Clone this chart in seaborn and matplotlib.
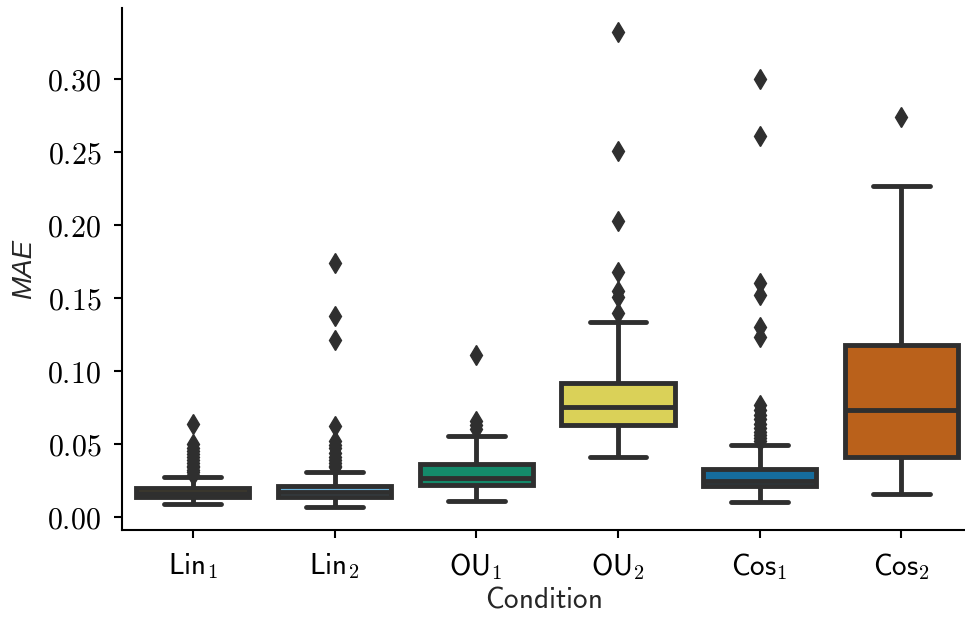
import numpy as np
import pandas as pd
import seaborn as sns
import matplotlib.pyplot as plt

# conditions and colours (Okabe-Ito style palette)
conditions = ['Lin1', 'Lin2', 'OU1', 'OU2', 'Cos1', 'Cos2']
tick_labels = [r'$\mathsf{Lin}_1$', r'$\mathsf{Lin}_2$', r'$\mathsf{OU}_1$',
               r'$\mathsf{OU}_2$', r'$\mathsf{Cos}_1$', r'$\mathsf{Cos}_2$']
palette = ['#E69F00', '#56B4E9', '#009E73', '#F0E442', '#0072B2', '#D55E00']

# MAE per run
lin1_mae = [0.0087, 0.0095, 0.0101, 0.0106, 0.0110, 0.0114, 0.0118, 0.0121, 0.0124, 0.0127,
            0.0130, 0.0132, 0.0134, 0.0136, 0.0138, 0.0140, 0.0142, 0.0143, 0.0145, 0.0147,
            0.0148, 0.0150, 0.0152, 0.0154, 0.0155, 0.0157, 0.0159, 0.0160, 0.0162, 0.0165,
            0.0167, 0.0170, 0.0172, 0.0175, 0.0177, 0.0180, 0.0182, 0.0185, 0.0187, 0.0190,
            0.0192, 0.0194, 0.0196, 0.0275, 0.029, 0.031, 0.032, 0.034, 0.035, 0.037,
            0.039, 0.041, 0.043, 0.045, 0.047, 0.050, 0.064]
lin2_mae = [0.0070, 0.0080, 0.0088, 0.0095, 0.0101, 0.0106, 0.0110, 0.0114, 0.0118, 0.0122,
            0.0125, 0.0128, 0.0131, 0.0134, 0.0137, 0.0140, 0.0142, 0.0145, 0.0147, 0.0150,
            0.0152, 0.0155, 0.0157, 0.0160, 0.0162, 0.0165, 0.0167, 0.0168, 0.0170, 0.0173,
            0.0176, 0.0179, 0.0182, 0.0185, 0.0188, 0.0191, 0.0194, 0.0197, 0.0200, 0.0203,
            0.0206, 0.0209, 0.0212, 0.0310, 0.034, 0.035, 0.037, 0.039, 0.041, 0.044,
            0.047, 0.049, 0.052, 0.062, 0.121, 0.138, 0.174]
ou1_mae = [0.0112, 0.0140, 0.0165, 0.0185, 0.0205, 0.0220, 0.0228, 0.0236, 0.0246, 0.0258,
           0.0270, 0.0285, 0.0302, 0.0320, 0.0340, 0.0362, 0.0557, 0.060, 0.063, 0.066,
           0.111]
ou2_mae = [0.0413, 0.046, 0.050, 0.053, 0.056, 0.058, 0.060, 0.0615, 0.0628, 0.064,
           0.066, 0.068, 0.0695, 0.071, 0.0725, 0.074, 0.0753, 0.077, 0.079, 0.081,
           0.083, 0.085, 0.0875, 0.0895, 0.0916, 0.1333, 0.140, 0.151, 0.155, 0.168,
           0.203, 0.251, 0.332]
cos1_mae = [0.0100, 0.0110, 0.0120, 0.0130, 0.0140, 0.0148, 0.0156, 0.0163, 0.0170, 0.0176,
            0.0182, 0.0188, 0.0193, 0.0198, 0.0203, 0.0207, 0.0211, 0.0215, 0.0217, 0.0219,
            0.0221, 0.0223, 0.0225, 0.0227, 0.0229, 0.0231, 0.0233, 0.0235, 0.0237, 0.0239,
            0.0241, 0.0243, 0.0245, 0.0247, 0.0250, 0.0255, 0.0260, 0.0265, 0.0270, 0.0275,
            0.0280, 0.0285, 0.0290, 0.0295, 0.0300, 0.0305, 0.0310, 0.0315, 0.0319, 0.0322,
            0.0325, 0.0328, 0.0490, 0.052, 0.054, 0.056, 0.058, 0.061, 0.064, 0.067,
            0.070, 0.073, 0.077, 0.1235, 0.130, 0.152, 0.160, 0.261, 0.300]
cos2_mae = [0.0158, 0.030, 0.0409, 0.058, 0.0733, 0.095, 0.1178, 0.2269, 0.2737]

mae_lists = [lin1_mae, lin2_mae, ou1_mae, ou2_mae, cos1_mae, cos2_mae]
df = pd.DataFrame({
    'Condition': np.concatenate([[c] * len(v) for c, v in zip(conditions, mae_lists)]),
    'MAE': np.concatenate(mae_lists),
})

sns.set_theme(style='ticks')
plt.rcParams['mathtext.fontset'] = 'cm'

line_gray = '#2f2f2f'
fig = plt.figure(figsize=(9.65, 6.17), dpi=100)
ax = fig.add_axes([0.1264, 0.141, 0.8736, 0.846])

sns.boxplot(data=df, x='Condition', y='MAE', hue='Condition', order=conditions,
            hue_order=conditions, palette=palette, saturation=0.75, width=0.8,
            linewidth=3.5, linecolor=line_gray, fliersize=10, legend=False,
            flierprops=dict(marker='d', markerfacecolor=line_gray,
                            markeredgecolor=line_gray), ax=ax)

ax.set_xlim(-0.5, 5.45)
ax.set_ylim(-0.0089, 0.3486)
yticks = [0.0, 0.05, 0.10, 0.15, 0.20, 0.25, 0.30]
ax.set_yticks(yticks)
ax.set_yticklabels([f'${t:.2f}$' for t in yticks], fontsize=21.5)
ax.set_xticks(range(len(conditions)))
ax.set_xticklabels(tick_labels, fontsize=21)
ax.set_xlabel(r'$\mathsf{Condition}$', fontsize=21, labelpad=3)
ax.set_ylabel('MAE', fontsize=20, fontstyle='italic', family='Liberation Sans',
              labelpad=7)

for side in ['top', 'right']:
    ax.spines[side].set_visible(False)
for side in ['left', 'bottom']:
    ax.spines[side].set_color('black')
    ax.spines[side].set_linewidth(1.5)
ax.tick_params(axis='both', colors='black', length=6, width=1.5, direction='out')
ax.tick_params(axis='x', pad=9)
ax.tick_params(axis='y', pad=9)

plt.savefig('out.png', dpi=100)
